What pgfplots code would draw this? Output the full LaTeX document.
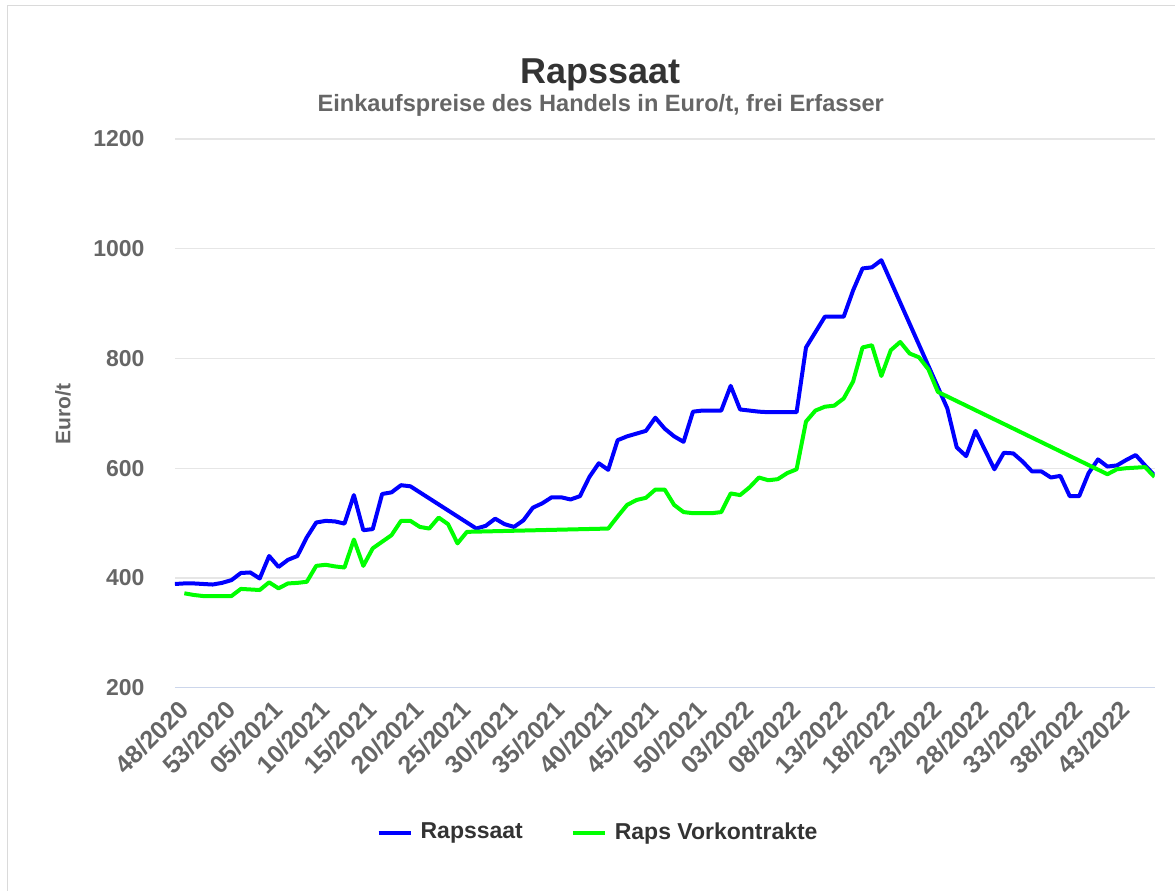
\documentclass[border=0pt]{standalone}
\usepackage{fontspec}
\setmainfont{Liberation Sans}
\usepackage{pgfplots}
\pgfplotsset{compat=1.18}

\definecolor{rsblue}{RGB}{0,0,255}
\definecolor{rsgreen}{RGB}{0,255,0}
\definecolor{gridgray}{RGB}{230,230,230}
\definecolor{axisblue}{RGB}{204,214,235}
\definecolor{labgray}{RGB}{102,102,102}
\definecolor{txtgray}{RGB}{51,51,51}
\definecolor{framegray}{RGB}{218,218,218}

\begin{document}
\begin{tikzpicture}
% canvas: 1 px of the reference = 0.5pt
\path (0pt,0pt) rectangle (587.5pt,445.5pt);
\draw[framegray, line width=0.5pt] (4pt,0pt) -- (4pt,442.5pt) -- (587.5pt,442.5pt);

\node[font=\bfseries\fontsize{18}{21}\selectfont, text=txtgray] at (300.5pt,408pt) {Rapssaat};
\node[font=\bfseries\fontsize{11.8}{14}\selectfont, text=labgray] at (300.5pt,393pt) {Einkaufspreise des Handels in Euro/t, frei Erfasser};
\node[font=\bfseries\fontsize{10.5}{12}\selectfont, text=labgray, rotate=90] at (31.5pt,238.5pt) {Euro/t};

\begin{axis}[
  at={(87.5pt,101.5pt)}, anchor=south west,
  scale only axis, width=490pt, height=274.5pt,
  xmin=0, xmax=104, ymin=200, ymax=1200,
  ytick={200,400,600,800,1000,1200},
  xtick={0,5,...,100},
  xticklabels={48/2020,53/2020,05/2021,10/2021,15/2021,20/2021,25/2021,30/2021,35/2021,40/2021,45/2021,50/2021,03/2022,08/2022,13/2022,18/2022,23/2022,28/2022,33/2022,38/2022,43/2022},
  axis x line*=bottom, axis y line*=left,
  x axis line style={-, draw=axisblue, line width=0.6pt},
  y axis line style={draw=none},
  ymajorgrids, grid style={gridgray, line width=0.6pt},
  tick style={draw=none},
  tick label style={font=\bfseries\fontsize{11.5}{13}\selectfont, text=labgray},
  xticklabel style={font=\bfseries\fontsize{12.5}{14}\selectfont, rotate=45, anchor=north east, inner sep=0pt, yshift=-4.5pt, xshift=-3pt},
  yticklabel style={anchor=east, inner sep=0pt, xshift=-15pt},
  /pgf/number format/assume math mode=true,
  /pgf/number format/1000 sep={},
  legend columns=2,
  legend style={draw=none, fill=none, at={(0.433,-0.264)}, anchor=center,
    font=\bfseries\fontsize{11.5}{13}\selectfont, text=txtgray,
    /tikz/every even column/.append style={column sep=22pt}},
  legend image code/.code={\draw[#1] (0pt,0pt) -- (16pt,0pt);},
  legend cell align=left,
  legend style={/tikz/every odd column/.append style={column sep=2pt}},
]
\addplot[rsblue, line width=2pt, line join=round, no markers] coordinates {
(0,389) (1,390) (2,390) (3,389) (4,388) (5,391) (6,396) (7,409) (8,410) (9,399)
(10,440) (11,420) (12,433) (13,440) (14,474) (15,501) (16,504) (17,503) (18,499) (19,551)
(20,487) (21,489) (22,553) (23,556) (24,569) (25,567)
(32,490) (33,495) (34,508) (35,498) (36,493) (37,505) (38,528) (39,536)
(40,547) (41,547) (42,543) (43,549) (44,584) (45,609) (46,597) (47,651) (48,658) (49,663)
(50,668) (51,692) (52,672) (53,658) (54,648) (55,703) (56,705) (57,705) (58,705) (59,750)
(60,707) (61,705) (62,703) (63,702) (64,702) (65,702) (66,702) (67,820) (68,848) (69,876)
(70,876) (71,876) (72,924) (73,964) (74,966) (75,979)
(82,709) (83,638) (84,622) (85,668) (86,633) (87,598) (88,628) (89,627)
(90,612) (91,594) (92,594) (93,583) (94,586) (95,549) (96,549) (97,591) (98,616) (99,603)
(100,605) (101,615) (102,624) (103,605) (104,587)
};
\addlegendentry{Rapssaat}
\addplot[rsgreen, line width=2pt, line join=round, no markers] coordinates {
(1,372) (2,369) (3,367) (4,367) (5,367) (6,367) (7,380) (8,379) (9,378)
(10,392) (11,381) (12,390) (13,391) (14,393) (15,422) (16,424) (17,421) (18,419) (19,470)
(20,422) (21,454) (22,466) (23,478) (24,504) (25,504) (26,493) (27,490) (28,510) (29,498)
(30,463) (31,484)
(46,490) (47,512) (48,533) (49,542)
(50,546) (51,561) (52,561) (53,533) (54,520) (55,518) (56,518) (57,518) (58,520) (59,554)
(60,551) (61,565) (62,583) (63,578) (64,580) (65,591) (66,598) (67,685) (68,705) (69,712)
(70,714) (71,727) (72,758) (73,820) (74,824) (75,768) (76,815) (77,830) (78,809) (79,802)
(80,780) (81,739)
(99,589) (100,598) (101,600) (102,601) (103,602) (104,584)
};
\addlegendentry{Raps Vorkontrakte}
\end{axis}
\end{tikzpicture}
\end{document}
